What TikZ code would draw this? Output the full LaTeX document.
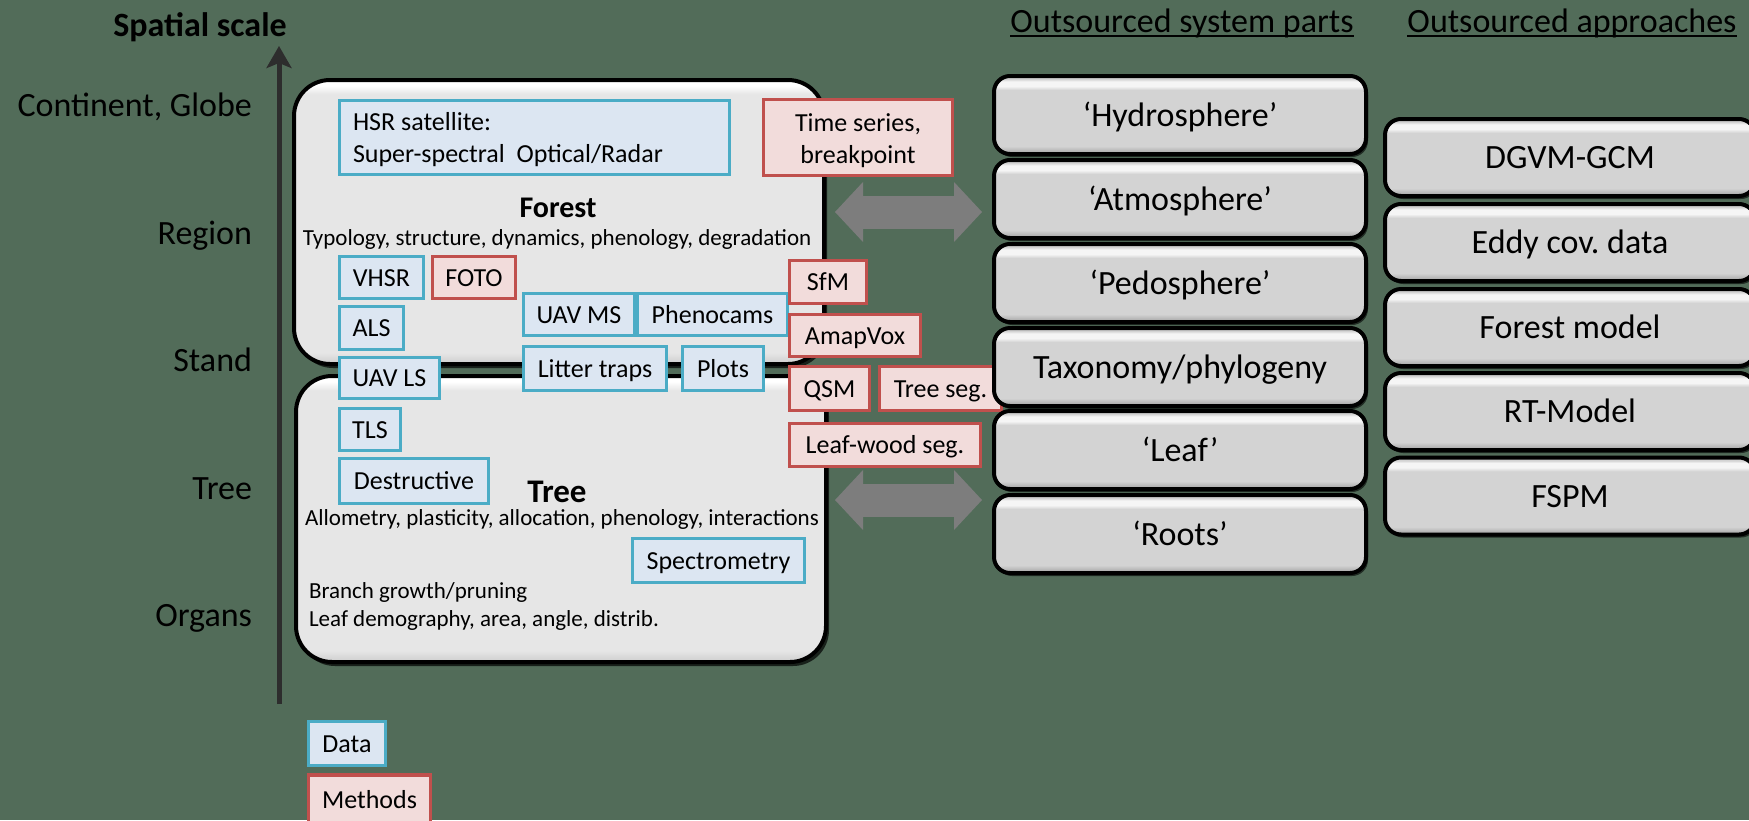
\documentclass[tikz,border=0pt]{standalone}
\usepackage{fontspec}
\setmainfont{Carlito}
\frenchspacing
\usetikzlibrary{arrows.meta,shadows}
\definecolor{bg}{RGB}{82,108,89}
\definecolor{axisc}{RGB}{45,45,45}
\definecolor{dfill}{RGB}{220,230,242}
\definecolor{dline}{RGB}{75,172,198}
\definecolor{mfill}{RGB}{242,220,219}
\definecolor{mline}{RGB}{192,80,77}
\definecolor{boxg}{RGB}{230,230,230}
\definecolor{boxlo}{RGB}{205,205,205}
\definecolor{partg}{RGB}{211,211,211}
\definecolor{partlo}{RGB}{160,160,160}
\definecolor{parthi}{RGB}{245,245,245}
\definecolor{arrowg}{RGB}{125,125,125}
\pgfdeclareverticalshading{bevelA}{100bp}{color(0bp)=(boxlo); color(25bp)=(boxlo); color(27bp)=(boxg); color(72.5bp)=(boxg); color(74bp)=(white); color(100bp)=(white)}
\pgfdeclareverticalshading{bevelB}{100bp}{color(0bp)=(partlo); color(25bp)=(partlo); color(30bp)=(partg); color(66bp)=(partg); color(68.5bp)=(parthi); color(71.5bp)=(parthi); color(73bp)=(partg); color(100bp)=(partg)}
\begin{document}
\frenchspacing
\begin{tikzpicture}[x=1pt,y=-1pt,
  every node/.style={inner sep=0pt, outer sep=0pt},
  dbox/.style={draw=dline, fill=dfill, line width=3.5pt, font=\fontsize{26pt}{32pt}\selectfont},
  mbox/.style={draw=mline, fill=mfill, line width=3.5pt, font=\fontsize{26pt}{32pt}\selectfont},
  sline/.style={text height=22pt, text depth=5pt},
  bigbox/.style={draw=black, line width=4pt, rounded corners=36pt, shade, shading=bevelA,
    drop shadow={shadow xshift=3pt, shadow yshift=-4pt, opacity=0.7, fill=black}},
  partbox/.style={draw=black, line width=4pt, rounded corners=16pt, shade, shading=bevelB,
    drop shadow={shadow xshift=2pt, shadow yshift=-3pt, opacity=0.6, fill=black},
    minimum width=372pt, minimum height=78pt, font=\fontsize{34pt}{40pt}\selectfont,
    text height=29pt, text depth=7pt},
  apbox/.style={partbox, minimum width=370pt, minimum height=77pt},
  scalelbl/.style={anchor=mid east, font=\fontsize{34pt}{40pt}\selectfont},
  desc/.style={font=\fontsize{23pt}{27pt}\selectfont},
  hdr/.style={anchor=base, font=\fontsize{34pt}{40pt}\selectfont},
  blockarrow/.style={draw=arrowg, line width=33pt,
    {Triangle[length=28pt,width=60pt,line width=0pt]}-{Triangle[length=28pt,width=60pt,line width=0pt]}},
  axisline/.style={draw=axisc, line width=5pt, -{Stealth[length=22pt,width=25pt,inset=5pt]}}
]
\path[use as bounding box] (0,0) rectangle (1749,820);
\clip (0,0) rectangle (1749,820);
\fill[bg] (0,0) rectangle (1749,820);

% axis
\coordinate (axbot) at (279,704);
\coordinate (axtop) at (279,46);
\draw[axisline] (axbot) -- (axtop);
\node[anchor=mid, font=\bfseries\fontsize{34pt}{40pt}\selectfont] (title) at (200,34) {Spatial scale};
\node[scalelbl] (lcont) at (252,114) {Continent, Globe};
\node[scalelbl] (lreg) at (252,242) {Region};
\node[scalelbl] (lstand) at (252,369) {Stand};
\node[scalelbl] (ltree) at (252,497) {Tree};
\node[scalelbl] (lorg) at (252,624) {Organs};

% big boxes
\node[bigbox, minimum width=530pt, minimum height=284pt] (forest) at (559,222) {};
\node[bigbox, minimum width=530pt, minimum height=286pt] (tree) at (561,519) {};

\node[anchor=mid, font=\bfseries\fontsize{30pt}{36pt}\selectfont] (forestT) at (558,215) {Forest};
\node[desc, anchor=mid] (forestD) at (557,243) {Typology, structure, dynamics, phenology, degradation};
\node[anchor=mid, font=\bfseries\fontsize{33pt}{40pt}\selectfont] (treeT) at (557,500) {Tree};
\node[desc, anchor=mid] (treeD) at (562,523) {Allometry, plasticity, allocation, phenology, interactions};
\node[desc, anchor=mid west] (branch) at (309,596) {Branch growth/pruning};
\node[desc, anchor=mid west] (leafd) at (309,624) {Leaf demography, area, angle, distrib.};

% data boxes
\node[dbox, minimum width=390pt, minimum height=74pt, text width=363pt, align=flush left] (hsr) at (534.5,137.5) {\rule{0pt}{23pt}HSR satellite:\\Super-spectral\ \ Optical/Radar};
\node[dbox, sline, minimum width=84pt, minimum height=42pt] (vhsr) at (381.5,277.5) {VHSR};
\node[mbox, sline, minimum width=83pt, minimum height=42pt] (foto) at (474,277.5) {FOTO};
\node[dbox, sline, minimum width=64pt, minimum height=43pt] (als) at (371.5,328) {ALS};
\node[dbox, sline, minimum width=111pt, minimum height=42pt] (uavms) at (579,314.5) {UAV MS};
\node[dbox, sline, minimum width=150pt, minimum height=42pt] (pheno) at (712.5,314.5) {Phenocams};
\node[dbox, sline, minimum width=100pt, minimum height=41pt] (uavls) at (389.5,378) {UAV LS};
\node[dbox, sline, minimum width=143pt, minimum height=44pt] (litter) at (595,368.5) {Litter traps};
\node[dbox, sline, minimum width=81pt, minimum height=44pt] (plots) at (723,368.5) {Plots};
\node[dbox, sline, minimum width=61pt, minimum height=42pt] (tls) at (370,429.5) {TLS};
\node[dbox, sline, minimum width=149pt, minimum height=45pt] (destr) at (414,481) {Destructive};
\node[dbox, sline, minimum width=172pt, minimum height=44pt] (spectro) at (718.5,560.5) {Spectrometry};

% method boxes
\node[mbox, minimum width=189pt, minimum height=76pt, align=center] (tseries) at (858,137.5) {\rule{0pt}{25pt}Time series,\\breakpoint};
\node[mbox, sline, minimum width=77pt, minimum height=43pt] (sfm) at (828,282) {SfM};
\node[mbox, sline, minimum width=131pt, minimum height=42pt] (amap) at (855,335.5) {AmapVox};
\node[mbox, sline, minimum width=80pt, minimum height=44pt] (qsm) at (829.5,388.5) {QSM};
\node[mbox, sline, minimum width=122pt, minimum height=44pt] (treeseg) at (940.5,388.5) {Tree seg.};
\node[mbox, sline, minimum width=191pt, minimum height=43pt] (leafwood) at (885,445) {Leaf-wood seg.};

% block arrows
\coordinate (ua1) at (835,212);
\coordinate (ua2) at (982,212);
\coordinate (la1) at (835,500);
\coordinate (la2) at (982,500);
\draw[blockarrow] (ua1) -- (ua2);
\draw[blockarrow] (la1) -- (la2);

% outsourced system parts
\node[partbox] (hydro) at (1180,115) {‘Hydrosphere’};
\node[partbox] (atmo) at (1180,199) {‘Atmosphere’};
\node[partbox] (pedo) at (1180,283) {‘Pedosphere’};
\node[partbox] (taxo) at (1180,367) {Taxonomy/phylogeny};
\node[partbox] (leafp) at (1180,450) {‘Leaf’};
\node[partbox] (roots) at (1180,534) {‘Roots’};

% outsourced approaches
\node[apbox] (dgvm) at (1570,157.5) {DGVM-GCM};
\node[apbox] (eddy) at (1570,242.5) {Eddy cov. data};
\node[apbox] (fmodel) at (1570,327.5) {Forest model};
\node[apbox] (rtm) at (1570,411.5) {RT-Model};
\node[apbox] (fspm) at (1570,496) {FSPM};

% headers
\node[hdr] (h1) at (1182,32) {Outsourced system parts};
\node[hdr] (h2) at (1572,32) {Outsourced approaches};
\draw[line width=2.5pt] ([yshift=-4pt]h1.base west) -- ([yshift=-4pt]h1.base east);
\draw[line width=2.5pt] ([yshift=-4pt]h2.base west) -- ([yshift=-4pt]h2.base east);

% legend
\node[dbox, sline, minimum width=77pt, minimum height=44pt] (ldata) at (347,743.5) {Data};
\node[mbox, sline, minimum width=122pt, minimum height=50pt] (lmeth) at (369.5,800) {Methods};
\end{tikzpicture}
\end{document}
